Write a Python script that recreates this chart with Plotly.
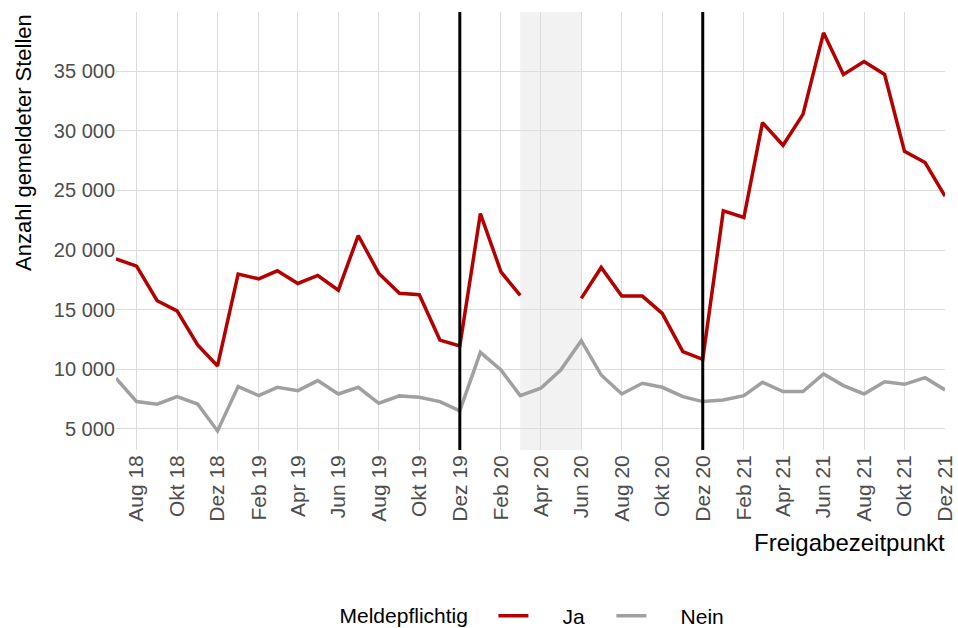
import plotly.graph_objects as go
import pandas as pd

months = pd.date_range("2018-07-01", "2021-12-01", freq="MS")

ja = [19250, 18650, 15750, 14900, 12050, 10280, 17980, 17590, 18260, 17200,
      17870, 16640, 21220, 18040, 16370, 16250, 12450, 11950,
      23060, 18180, 16200, None, None, 15950, 18540, 16140, 16140, 14690,
      11480, 10840,
      23290, 22730, 30690, 28790, 31380, 38220, 34730, 35820, 34730, 28280,
      27340, 24520]

nein = [9250, 7290, 7070, 7710, 7090, 4830, 8550, 7790, 8490, 8210,
        9050, 7930, 8490, 7150, 7770, 7660, 7290, 6510,
        11420, 9940, 7790, 8410, 9940, 12400, 9520, 7930, 8830, 8490,
        7710, 7290,
        7430, 7790, 8910, 8130, 8130, 9610, 8630, 7930, 8960, 8740,
        9300, 8270]

x_tickvals = ["2018-08-01", "2018-10-01", "2018-12-01", "2019-02-01", "2019-04-01",
              "2019-06-01", "2019-08-01", "2019-10-01", "2019-12-01", "2020-02-01",
              "2020-04-01", "2020-06-01", "2020-08-01", "2020-10-01", "2020-12-01",
              "2021-02-01", "2021-04-01", "2021-06-01", "2021-08-01", "2021-10-01",
              "2021-12-01"]
x_ticktext = ["Aug 18", "Okt 18", "Dez 18", "Feb 19", "Apr 19", "Jun 19", "Aug 19",
              "Okt 19", "Dez 19", "Feb 20", "Apr 20", "Jun 20", "Aug 20", "Okt 20",
              "Dez 20", "Feb 21", "Apr 21", "Jun 21", "Aug 21", "Okt 21", "Dez 21"]
y_tickvals = [5000, 10000, 15000, 20000, 25000, 30000, 35000]
y_ticktext = ["5 000", "10 000", "15 000", "20 000", "25 000", "30 000", "35 000"]

series_names = ["Ja", "Nein"]
event_lines = ["2019-12-01", "2020-12-01"]
shade_start, shade_end = "2020-03-01", "2020-06-01"

FONT = "Liberation Sans, Arial, sans-serif"
PAD = "\u00a0" * 5

fig = go.Figure()
fig.add_trace(go.Scatter(x=months, y=ja, mode="lines", name=PAD + series_names[0],
                         line=dict(color="#b30000", width=3.5)))
fig.add_trace(go.Scatter(x=months, y=nein, mode="lines", name=PAD + series_names[1],
                         line=dict(color="#a0a0a0", width=3.5)))

fig.add_shape(type="rect", xref="x", yref="paper", x0=shade_start, x1=shade_end,
              y0=0, y1=1, fillcolor="#f2f2f2", line_width=0, layer="below")
for d in event_lines:
    fig.add_shape(type="line", xref="x", yref="paper", x0=d, x1=d, y0=0, y1=1,
                  line=dict(color="black", width=3))

fig.add_annotation(text="Anzahl gemeldeter Stellen", textangle=-90,
                   xref="paper", yref="paper", x=-0.1116, y=1,
                   xanchor="center", yanchor="top", showarrow=False,
                   font=dict(family=FONT, size=22, color="black"))
fig.add_annotation(text="Freigabezeitpunkt", xref="paper", yref="paper",
                   x=1.002, y=-0.2123, xanchor="right", yanchor="middle",
                   showarrow=False, font=dict(family=FONT, size=24, color="black"))

fig.update_layout(
    template="none",
    width=958, height=628,
    margin=dict(l=116, r=13, t=12, b=178, autoexpand=False),
    paper_bgcolor="white", plot_bgcolor="white",
    font=dict(family=FONT, color="black"),
    showlegend=True,
    legend=dict(orientation="h", xref="container", yref="container",
                x=0.5569, xanchor="center", y=0.0191, yanchor="middle",
                bgcolor="rgba(0,0,0,0)",
                title=dict(text="Meldepflichtig" + "\u00a0" * 3, side="left",
                           font=dict(family=FONT, size=21, color="black")),
                font=dict(family=FONT, size=21, color="black"),
                entrywidth=73, entrywidthmode="pixels"),
    xaxis=dict(range=["2018-07-01", "2021-12-01"], tickvals=x_tickvals,
               ticktext=x_ticktext, tickangle=-90, showgrid=True,
               gridcolor="#dcdcdc", gridwidth=1, zeroline=False, showline=False,
               ticks="", automargin=False,
               tickfont=dict(family=FONT, size=21, color="#4d4d4d")),
    yaxis=dict(range=[3230, 39970], tickvals=y_tickvals, ticktext=y_ticktext,
               showgrid=True, gridcolor="#dcdcdc", gridwidth=1, zeroline=False,
               showline=False, ticks="", automargin=False,
               tickfont=dict(family=FONT, size=20, color="#4d4d4d")),
)

fig.write_html("out.html",
               config={"displayModeBar": False},
               post_script="document.body.style.margin='0px';"
                           "document.body.style.overflow='hidden';")
